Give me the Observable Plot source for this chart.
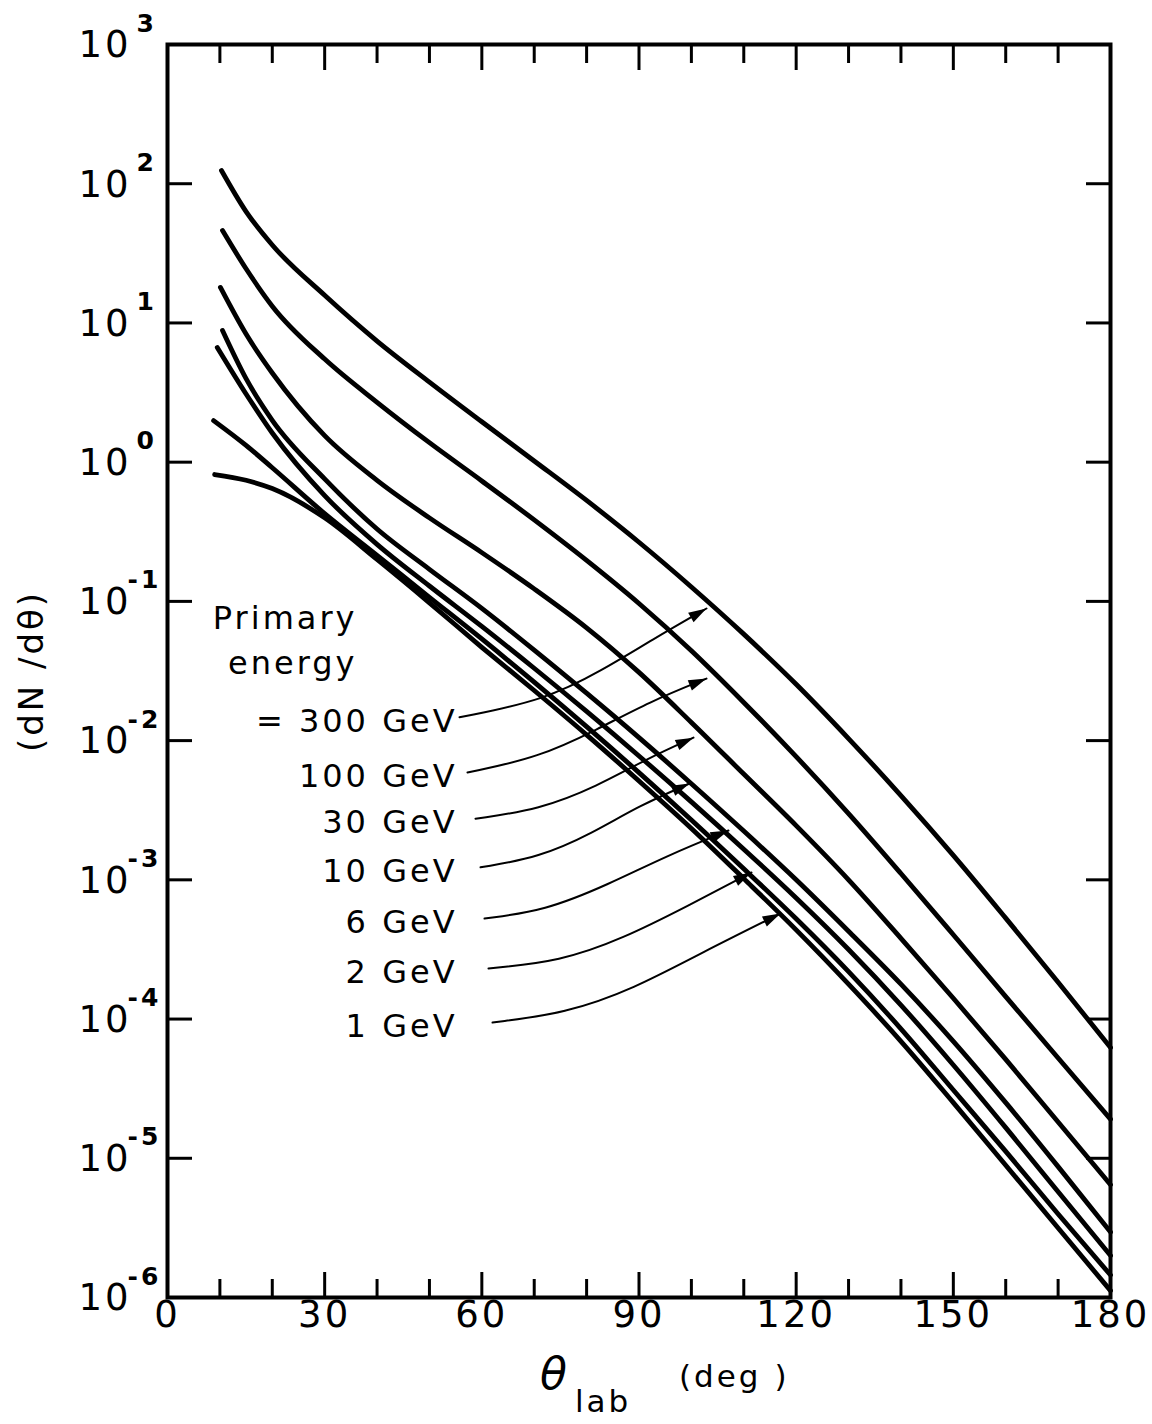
<!DOCTYPE html>
<html>
<head>
<meta charset="utf-8">
<script src="https://cdn.jsdelivr.net/npm/d3@7"></script>
<script src="https://cdn.jsdelivr.net/npm/@observablehq/plot@0.6"></script>
<style>
  body { margin: 0; background: #fff; }
  svg text { letter-spacing: 3px; }
</style>
</head>
<body>
<div id="chart"></div>
<script>
// ---- data ----
const energies = ["300 GeV", "100 GeV", "30 GeV", "10 GeV", "6 GeV", "2 GeV", "1 GeV"];
const legendLabels = ["= 300 GeV", "100 GeV", "30 GeV", "10 GeV", "6 GeV", "2 GeV", "1 GeV"];
const startAngles = [10.3, 10.5, 10.1, 10.5, 9.5, 8.8, 9.0];
const angles = [15, 20, 30, 40, 50, 60, 70, 80, 90, 100, 110, 120, 130, 140, 150, 160, 170, 180];

const dNdTheta300 = [1.245e2, 6.31e1, 3.63e1, 1.58e1, 7.41, 3.76, 1.95, 1.02, 5.31e-1, 2.66e-1, 1.27e-1, 5.82e-2, 2.54e-2, 1.035e-2, 4.03e-3, 1.50e-3, 5.31e-4, 1.84e-4, 6.24e-5];
const dNdTheta100 = [4.61e1, 2.45e1, 1.32e1, 5.50, 2.69, 1.38, 7.33e-1, 3.85e-1, 1.97e-1, 9.66e-2, 4.42e-2, 1.88e-2, 7.67e-3, 2.99e-3, 1.11e-3, 4.03e-4, 1.45e-4, 5.25e-5, 1.91e-5];
const dNdTheta30  = [1.80e1, 8.32, 4.37, 1.55, 7.41e-1, 3.98e-1, 2.24e-1, 1.23e-1, 6.46e-2, 3.09e-2, 1.35e-2, 5.75e-3, 2.45e-3, 1.00e-3, 3.80e-4, 1.41e-4, 5.13e-5, 1.82e-5, 6.46e-6];
const dNdTheta10  = [8.83, 3.98, 2.00, 7.59e-1, 3.31e-1, 1.70e-1, 8.91e-2, 4.47e-2, 2.19e-2, 1.05e-2, 4.90e-3, 2.24e-3, 1.00e-3, 4.27e-4, 1.78e-4, 6.92e-5, 2.51e-5, 8.71e-6, 2.95e-6];
const dNdTheta6   = [6.67, 3.09, 1.62, 5.75e-1, 2.57e-1, 1.29e-1, 6.61e-2, 3.31e-2, 1.62e-2, 7.76e-3, 3.63e-3, 1.66e-3, 7.41e-4, 3.16e-4, 1.26e-4, 4.68e-5, 1.66e-5, 5.75e-6, 2.00e-6];
const dNdTheta2   = [1.99, 1.32, 9.12e-1, 4.27e-1, 2.14e-1, 1.07e-1, 5.37e-2, 2.63e-2, 1.26e-2, 5.89e-3, 2.69e-3, 1.20e-3, 5.25e-4, 2.19e-4, 8.51e-5, 3.09e-5, 1.12e-5, 3.98e-6, 1.45e-6];
const dNdTheta1   = [8.15e-1, 7.41e-1, 6.46e-1, 3.98e-1, 2.00e-1, 9.77e-2, 4.68e-2, 2.29e-2, 1.10e-2, 5.13e-3, 2.34e-3, 1.02e-3, 4.37e-4, 1.78e-4, 6.92e-5, 2.51e-5, 8.91e-6, 3.16e-6, 1.12e-6];
const seriesValues = [dNdTheta300, dNdTheta100, dNdTheta30, dNdTheta10, dNdTheta6, dNdTheta2, dNdTheta1];

// annotation arrows (label -> curve), control points in data coordinates
const arrowAngles = [
  [55.74, 72.0, 83.0, 92.5, 102.88],
  [57.26, 71.0, 82.0, 92.0, 102.88],
  [58.79, 71.0, 82.0, 91.5, 100.40],
  [59.75, 71.0, 81.0, 90.0, 99.64],
  [60.51, 72.0, 84.0, 95.5, 107.08],
  [61.27, 75.0, 87.0, 99.0, 111.47],
  [62.04, 76.0, 89.0, 102.0, 117.01]
];
const arrowValues = [
  [1.47e-2, 1.95e-2, 3.20e-2, 5.30e-2, 8.89e-2],
  [5.90e-3, 7.60e-3, 1.20e-2, 1.90e-2, 2.79e-2],
  [2.75e-3, 3.20e-3, 4.70e-3, 7.40e-3, 1.05e-2],
  [1.23e-3, 1.45e-3, 2.15e-3, 3.40e-3, 4.92e-3],
  [5.27e-4, 6.00e-4, 9.20e-4, 1.50e-3, 2.26e-3],
  [2.31e-4, 2.60e-4, 3.80e-4, 6.40e-4, 1.13e-3],
  [9.44e-5, 1.10e-4, 1.65e-4, 3.00e-4, 5.73e-4]
];

const yExponents = [-6, -5, -4, -3, -2, -1, 0, 1, 2, 3];
const xMajorTicks = [0, 30, 60, 90, 120, 150, 180];
const xMinorTicks = [10, 20, 40, 50, 70, 80, 100, 110, 130, 140, 160, 170];

// ---- tables built from the arrays ----
const curveRows = energies.flatMap((e, i) =>
  [startAngles[i], ...angles].map((a, j) => ({energy: e, angle: a, value: seriesValues[i][j]})));
const arrowRows = energies.flatMap((e, i) =>
  arrowAngles[i].map((a, j) => ({energy: e, angle: a, value: arrowValues[i][j]})));
const labelRows = energies.map((e, i) => ({
  label: legendLabels[i], angle: arrowAngles[0][0], value: arrowValues[i][0]
}));
const yTickValues = yExponents.map(e => 10 ** e);

const arrowHead = {
  draw(ctx) {
    ctx.moveTo(0, 0);
    ctx.lineTo(-18, -5.5);
    ctx.lineTo(-18, 5.5);
    ctx.closePath();
  }
};

function build(tips) {
  return Plot.plot({
    width: 1152,
    height: 1424,
    marginLeft: 167,
    marginRight: 42,
    marginTop: 44,
    marginBottom: 127,
    x: {domain: [0, 180], axis: null},
    y: {type: "log", domain: [1e-6, 1e3], axis: null},
    style: {fontFamily: "'DejaVu Sans', sans-serif", color: "black", background: "white", overflow: "visible"},
    marks: [
      // ticks (inward)
      Plot.axisX(xMajorTicks, {anchor: "bottom", tickSize: -25, strokeWidth: 3, tickFormat: () => "", label: null}),
      Plot.axisX(xMinorTicks, {anchor: "bottom", tickSize: -18, strokeWidth: 3, tickFormat: () => "", label: null}),
      Plot.axisX(xMajorTicks, {anchor: "top", tickSize: -25, strokeWidth: 3, tickFormat: () => "", label: null}),
      Plot.axisX(xMinorTicks, {anchor: "top", tickSize: -18, strokeWidth: 3, tickFormat: () => "", label: null}),
      Plot.axisY(yTickValues, {anchor: "left", tickSize: -25, strokeWidth: 3, tickFormat: () => "", label: null}),
      Plot.axisY(yTickValues, {anchor: "right", tickSize: -25, strokeWidth: 3, tickFormat: () => "", label: null}),
      Plot.frame({strokeWidth: 4}),
      // x tick labels
      Plot.text(xMajorTicks, {x: d => d, frameAnchor: "bottom", dy: 29, fontSize: 37, text: d => String(d)}),
      // y tick labels 10^n
      Plot.text(yExponents, {y: d => 10 ** d, frameAnchor: "left", textAnchor: "end", dx: -36, dy: 1, fontSize: 37, text: () => "10"}),
      Plot.text(yExponents.filter(d => d >= 0), {y: d => 10 ** d, frameAnchor: "left", textAnchor: "start", dx: -31, dy: -21, fontSize: 25, fontWeight: "bold", text: d => String(d)}),
      Plot.text(yExponents.filter(d => d < 0), {y: d => 10 ** d, frameAnchor: "left", textAnchor: "start", dx: -40, dy: -21, fontSize: 25, fontWeight: "bold", text: d => "-" + String(-d)}),
      // axis titles
      Plot.text(["(dN /dθ)"], {frameAnchor: "left", textAnchor: "middle", dx: -135, rotate: -90, fontSize: 34}),
      Plot.text(["θ"], {frameAnchor: "bottom", dx: -84, dy: 91, fontSize: 44, fontStyle: "italic"}),
      Plot.text(["lab"], {frameAnchor: "bottom", textAnchor: "start", dx: -64, dy: 114, fontSize: 31}),
      Plot.text(["(deg )"], {frameAnchor: "bottom", textAnchor: "start", dx: 40, dy: 89, fontSize: 31}),
      // curves
      Plot.line(curveRows, {x: "angle", y: "value", z: "energy", curve: "monotone-x", stroke: "black", strokeWidth: 4.8, strokeLinecap: "round"}),
      // legend text
      Plot.text([labelRows[0]], {x: "angle", y: "value", text: () => "Primary\nenergy", textAnchor: "end", dx: -102, dy: -80, lineHeight: 1.4, fontSize: 32}),
      Plot.text(labelRows, {x: "angle", y: "value", text: "label", textAnchor: "end", dx: -2, dy: 4, fontSize: 32}),
      // arrows
      Plot.line(arrowRows, {x: "angle", y: "value", z: "energy", curve: "basis", stroke: "black", strokeWidth: 2}),
      Plot.dot(tips, {x: "angle", y: "value", rotate: "rot", symbol: arrowHead, fill: "black", stroke: null})
    ]
  });
}

const probe = build([]);
const sx = probe.scale("x"), sy = probe.scale("y");
const tips = energies.map((e, i) => {
  const n = arrowAngles[i].length;
  const x0 = sx.apply(arrowAngles[i][n - 2]), y0 = sy.apply(arrowValues[i][n - 2]);
  const x1 = sx.apply(arrowAngles[i][n - 1]), y1 = sy.apply(arrowValues[i][n - 1]);
  return {angle: arrowAngles[i][n - 1], value: arrowValues[i][n - 1], rot: Math.atan2(y1 - y0, x1 - x0) * 180 / Math.PI};
});
document.getElementById("chart").append(build(tips));
</script>
</body>
</html>
